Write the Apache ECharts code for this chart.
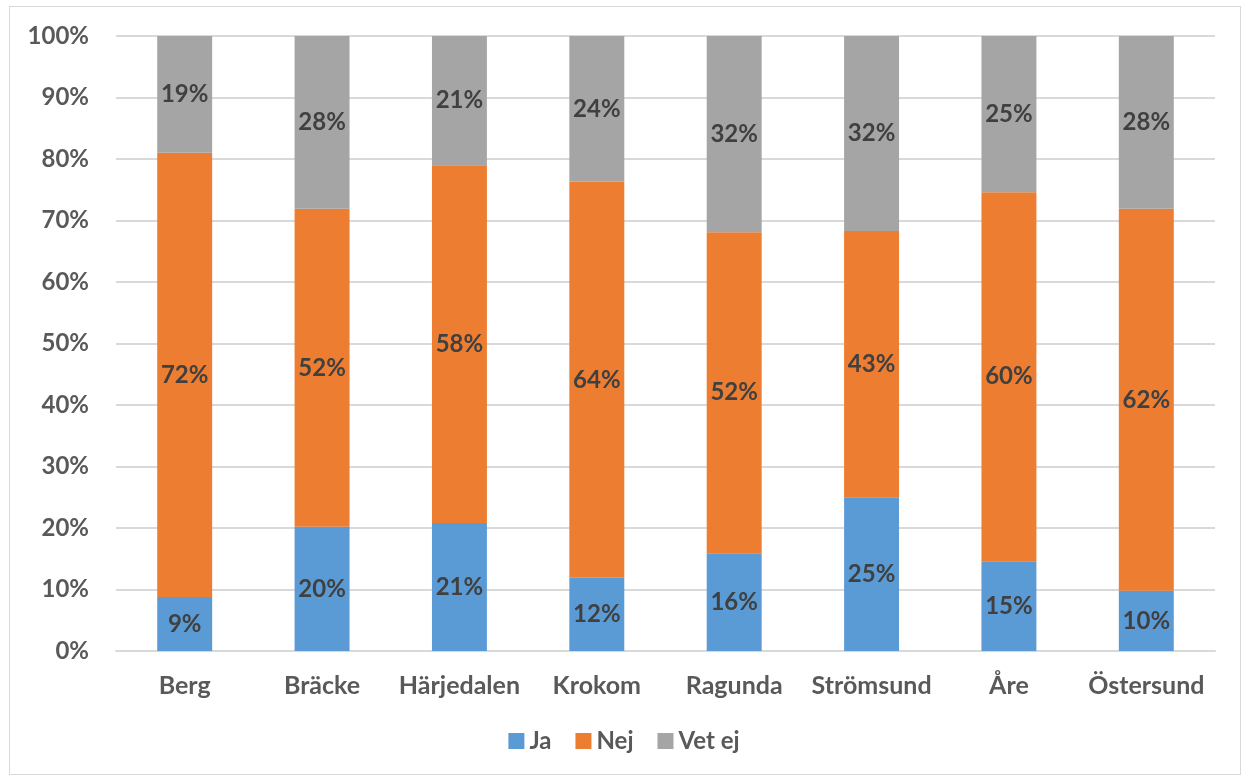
<!DOCTYPE html>
<html lang="sv">
<head>
    <meta charset="UTF-8">
    <title>Ja / Nej / Vet ej per kommun</title>
    <script src="https://cdn.jsdelivr.net/npm/echarts@6/dist/echarts.min.js"></script>
    <style>
        body, html {
            margin: 0;
            padding: 0;
            width: 100%;
            height: 100%;
            overflow: hidden;
            background: #fff;
        }
        #frame {
            position: absolute;
            left: 9px;
            top: 6px;
            width: 1230px;
            height: 767px;
            border: 1px solid #d9d9d9;
        }
        #container {
            position: absolute;
            left: 0;
            top: 0;
            width: 1248px;
            height: 780px;
        }
    </style>
</head>
<body>
    <div id="frame"></div>
    <div id="container"></div>
    <script>
        // kategorier och andelar (%)
        var categories = ['Berg', 'Bräcke', 'Härjedalen', 'Krokom', 'Ragunda', 'Strömsund', 'Åre', 'Östersund'];
        var ja    = [8.8, 20.2, 20.8, 11.9, 15.9, 25.0, 14.6, 9.8];
        var nej   = [72.2, 51.7, 58.2, 64.4, 52.2, 43.3, 60.0, 62.1];
        var vetEj = [19.0, 28.1, 21.0, 23.7, 31.9, 31.7, 25.4, 28.1];
        var yTicks = [0, 10, 20, 30, 40, 50, 60, 70, 80, 90, 100];

        var fontFam = 'Lato, "Open Sans", sans-serif';
        var labelStyle = {
            show: true,
            position: 'inside',
            color: '#404040',
            fontWeight: 'bold',
            fontSize: 24,
            fontFamily: fontFam,
            formatter: function (p) { return Math.round(p.value) + '%'; }
        };

        function bar(name, data, color) {
            return {
                name: name,
                type: 'bar',
                stack: 'total',
                barWidth: '40%',
                data: data,
                itemStyle: { color: color },
                label: labelStyle
            };
        }

        var option = {
            animation: false,
            grid: { left: 116, right: 33, top: 36, bottom: 129 },
            legend: {
                bottom: 22,
                left: 'center',
                itemWidth: 16,
                itemHeight: 16,
                itemGap: 24,
                icon: 'rect',
                textStyle: { color: '#595959', fontSize: 24, fontWeight: 'bold', fontFamily: fontFam },
                data: ['Ja', 'Nej', 'Vet ej']
            },
            xAxis: {
                type: 'category',
                data: categories,
                axisLine: { lineStyle: { color: '#d9d9d9', width: 2 } },
                axisTick: { show: false },
                axisLabel: { interval: 0, color: '#595959', fontSize: 25, fontWeight: 'bold', fontFamily: fontFam, margin: 22 }
            },
            yAxis: {
                type: 'value',
                min: yTicks[0],
                max: yTicks[yTicks.length - 1],
                interval: 10,
                axisLine: { show: false },
                axisTick: { show: false },
                splitLine: { lineStyle: { color: '#d9d9d9', width: 2 } },
                axisLabel: {
                    color: '#595959', fontSize: 24, fontWeight: 'bold', fontFamily: fontFam, margin: 27,
                    formatter: '{value}%'
                }
            },
            series: [
                bar('Ja', ja, '#5b9bd5'),
                bar('Nej', nej, '#ed7d31'),
                bar('Vet ej', vetEj, '#a5a5a5')
            ]
        };

        var chart = echarts.init(document.getElementById('container'));
        chart.setOption(option);
    </script>
</body>
</html>
